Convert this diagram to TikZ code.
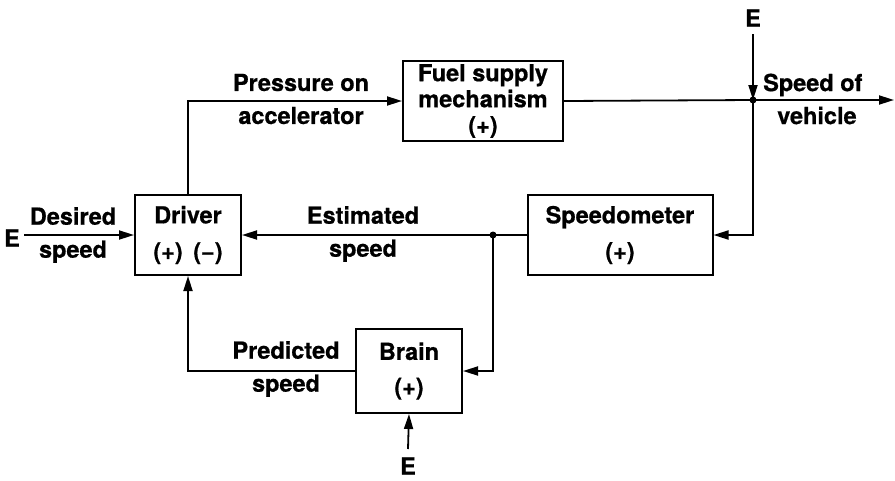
\documentclass[tikz,border=0pt]{standalone}
\usepackage{fontspec}
\setmainfont{TeX Gyre Heros}[BoldFeatures={FakeBold=0.7}]
\usetikzlibrary{arrows.meta}
\begin{document}
\begin{tikzpicture}[x=1pt,y=-1pt,
  every node/.style={font=\bfseries\fontsize{23.5}{27}\selectfont, inner sep=0pt},
  blk/.style={draw, line width=2pt, align=center},
  lbl/.style={align=center},
  conn/.style={line width=1.8pt},
  arr/.style={conn, -{Triangle[length=15pt,width=9pt]}},
  dot/.style={fill, circle, minimum size=7pt, inner sep=0pt}]
\useasboundingbox (0,0) rectangle (895,480);

% blocks
\node[blk, minimum width=106pt, minimum height=80pt] (driver) at (188,235)
  {Driver\\[9pt](+)\hspace{0.45em}(−)};
\node[blk, minimum width=160pt, minimum height=80pt] (fuel) at (483,101)
  {Fuel supply\\[-1pt]mechanism\\[-1pt](+)};
\node[blk, minimum width=185pt, minimum height=80pt] (speedo) at (620,235)
  {Speedometer\\[9pt](+)};
\node[blk, minimum width=106pt, minimum height=84pt] (brain) at (409,371)
  {Brain\\[8pt](+)};

% disturbance inputs
\node (eL) at (12,238) {E};
\node (eT) at (753,18) {E};
\node (eB) at (408,466) {E};

% branch points and free end
\coordinate (jv) at (753,100);
\coordinate (je) at (493,235);
\coordinate (out) at (894,100);
\coordinate (eLs) at (24,235);
\coordinate (eTs) at (753,34);
\coordinate (eBs) at (408,449);

% connectors
\draw[arr] (eLs) -- (driver.west);
\draw[arr] (driver.north) |- (fuel.west);
\draw[conn] (fuel.east) -- (jv);
\draw[arr] (jv) -- (out);
\draw[arr] (eTs) -- (jv);
\draw[arr] (jv) |- (speedo.east);
\draw[arr] (speedo.west) -- (driver.east);
\draw[arr] (je) |- (brain.east);
\draw[arr] (brain.west) -| (driver.south);
\draw[arr] (eBs) -- (brain.south);

\node[dot] (djv) at (jv) {};
\node[dot] (dje) at (je) {};

% signal labels
\node[lbl] (ldes) at (73,235) {Desired\\[6pt]speed};
\node[lbl] (lpress) at (301,99) {Pressure on\\[6pt]accelerator};
\node[lbl, align=left, anchor=west] (lveh) at (763,99) {Speed of\\[6pt]\hspace{0.6em}vehicle};
\node[lbl] (lest) at (363,234) {Estimated\\[6pt]speed};
\node[lbl] (lpred) at (286,369) {Predicted\\[6pt]speed};
\end{tikzpicture}
\end{document}
